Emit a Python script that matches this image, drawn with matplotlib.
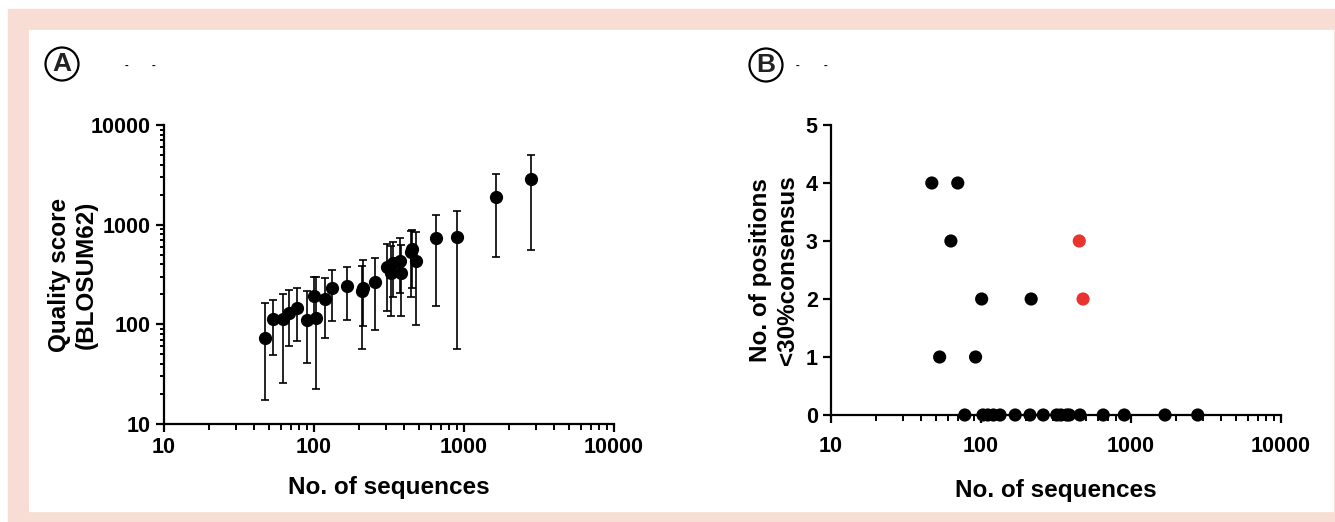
import matplotlib.pyplot as plt
import matplotlib.patches as mpatches
import numpy as np

plt.rcParams['font.family'] = ['Liberation Sans', 'DejaVu Sans']
plt.rcParams['font.weight'] = 'bold'

# panel A: quality score vs number of sequences (median with range)
a_n = [47, 53, 62, 68, 77, 90, 100, 103, 118, 132, 165, 210, 212, 255,
       307, 328, 335, 373, 378, 440, 448, 479, 647, 894, 1642, 2784]
a_score = [73, 114, 114, 130, 145, 110, 191, 116, 180, 230, 242, 216, 230, 266,
           376, 325, 409, 432, 325, 530, 569, 429, 735, 757, 1892, 2845]
a_hi = [163, 177, 203, 219, 233, 217, 296, 300, 293, 351, 376, 387, 438, 466,
        638, 610, 668, 728, 628, 860, 889, 849, 1239, 1377, 3192, 5020]
a_lo = [17.3, 49, 26, 60.5, 68.5, 41, 120, 22.3, 73, 109, 110, 57, 96, 88,
        137, 120, 189, 208, 121, 186, 231, 98, 154, 56.5, 476, 556]

# panel B: positions below 30% consensus
b_n = [47, 53, 63, 70, 92, 101, 216, 452, 479,
       78, 103, 111, 121, 134, 169, 212, 260, 320, 341, 373, 388, 457, 653, 902, 1686, 2786]
b_pos = [4, 1, 3, 4, 1, 2, 2, 3, 2,
         0, 0, 0, 0, 0, 0, 0, 0, 0, 0, 0, 0, 0, 0, 0, 0, 0]
b_red = [452, 479]

fig = plt.figure(figsize=(13.35, 5.22), dpi=100)
fig.patches.append(mpatches.Rectangle((8 / 1335, 0), 1, 1 - 9 / 522, transform=fig.transFigure,
                                      color='#f7ddd3', zorder=-2))
fig.patches.append(mpatches.Rectangle((29 / 1335, 11 / 522), (1333 - 29) / 1335, (511 - 30) / 522,
                                      transform=fig.transFigure, color='white', zorder=-1))

axA = fig.add_axes([164 / 1335, 98 / 522, 450 / 1335, 299 / 522])
axB = fig.add_axes([831 / 1335, 107 / 522, 450 / 1335, 290 / 522])

fmt = plt.FuncFormatter(lambda v, p: f"{int(round(v))}")
for ax in (axA, axB):
    ax.spines['top'].set_visible(False)
    ax.spines['right'].set_visible(False)
    ax.spines['left'].set_linewidth(1.6)
    ax.spines['bottom'].set_linewidth(1.6)
    ax.set_xscale('log')
    ax.set_xlim(10, 10000)
    ax.xaxis.set_major_formatter(fmt)
    ax.xaxis.set_minor_formatter(plt.NullFormatter())
    ax.tick_params(which='major', length=6, width=1.6, labelsize=15.5, direction='out')
    ax.tick_params(which='minor', length=4, width=1.4, direction='out')
    for t in ax.get_xticklabels() + ax.get_yticklabels():
        t.set_fontweight('bold')

# A
axA.set_yscale('log')
axA.set_ylim(10, 10000)
axA.yaxis.set_major_formatter(fmt)
axA.yaxis.set_minor_formatter(plt.NullFormatter())
axA.tick_params(axis='y', which='minor', length=3)
yerr = [np.array(a_score) - np.array(a_lo), np.array(a_hi) - np.array(a_score)]
axA.errorbar(a_n, a_score, yerr=yerr, fmt='o', color='black', ms=8.5,
             elinewidth=1.2, capsize=3, capthick=1.2, clip_on=False)
axA.set_xlabel('No. of sequences', fontsize=17.5, fontweight='bold', labelpad=13)
axA.set_ylabel('Quality score\n(BLOSUM62)', fontsize=17.5, fontweight='bold')
axA.yaxis.set_label_coords(-0.148, 0.5)

# B
axB.set_ylim(0, 5)
axB.set_yticks([0, 1, 2, 3, 4, 5])
axB.tick_params(axis='x', which='major', pad=9)
cols = ['#e8332e' if (n in b_red and p > 0) else 'black' for n, p in zip(b_n, b_pos)]
axB.scatter(b_n, b_pos, s=90, c=cols, zorder=3, clip_on=False, linewidths=0)
axB.set_xlabel('No. of sequences', fontsize=17.5, fontweight='bold', labelpad=16)
axB.set_ylabel('No. of positions\n<30%consensus', fontsize=17.5, fontweight='bold')
axB.yaxis.set_label_coords(-0.072, 0.5)
for t in axB.get_yticklabels() + axB.get_xticklabels():
    t.set_fontweight('bold')

# panel letters
for cx, cy, lab, dashes in [(62, 64, 'A', (126, 153)), (766, 65, 'B', (797, 826))]:
    fig.patches.append(mpatches.Circle((cx / 100, (522 - cy) / 100), 0.165, transform=fig.dpi_scale_trans,
                                       fill=False, edgecolor='black', linewidth=1.6))
    fig.text(cx / 1335, 1 - cy / 522, lab, fontsize=19, fontweight='bold', ha='center', va='center',
             color='#222222')
    for dx in dashes:
        fig.text(dx / 1335, 1 - 66 / 522, '-', fontsize=8, ha='center', va='center')

fig.savefig('out.png', dpi=100)
